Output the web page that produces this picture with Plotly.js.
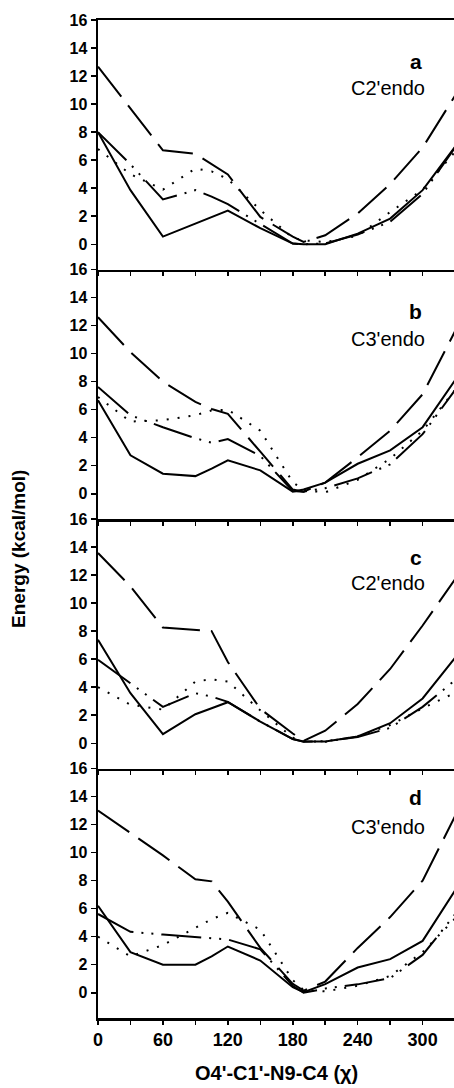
<!DOCTYPE html>
<html>
<head>
<meta charset="utf-8">
<script src="https://cdn.plot.ly/plotly-3.0.1.min.js"></script>
<style>
  html, body { margin: 0; padding: 0; background: #fff; }
  #chart { width: 454px; height: 1088px; }
</style>
</head>
<body>
<div id="chart"></div>
<script>
// Glycosidic torsion angle chi (degrees)
const chi = [0, 30, 60, 90, 105, 120, 150, 180, 190, 210, 240, 270, 300, 330];

// Relative energies (kcal/mol), panel a (C2'endo)
const aSolid   = [8.0, 3.86, 0.55, 1.5, 1.95, 2.4, 1.15, 0.05, 0.0, 0.0, 0.76, 1.83, 3.86, 6.95];
const aDash    = [12.67, 9.7, 6.7, 6.45, 5.7, 4.98, 1.95, 0.54, 0.17, 0.64, 2.2, 4.3, 6.9, 10.6];
const aDot     = [6.8, 5.0, 3.9, 5.4, 5.2, 4.65, 2.45, 0.45, 0.28, 0.15, 0.6, 2.3, 3.9, 6.6];
const aDashDot = [8.0, 5.7, 3.2, 3.86, 3.4, 2.86, 1.45, 0.05, 0.0, 0.05, 0.7, 1.6, 3.6, 6.9];

// Panel b (C3'endo)
const bSolid   = [6.67, 2.74, 1.43, 1.26, 1.8, 2.38, 1.67, 0.15, 0.3, 0.79, 2.14, 3.1, 4.75, 8.1];
const bDash    = [12.6, 10.1, 8.0, 6.55, 6.05, 5.7, 3.0, 0.3, 0.15, 0.8, 2.6, 4.5, 7.1, 11.6];
const bDot     = [6.9, 5.15, 5.25, 5.6, 5.95, 6.0, 4.5, 0.83, 0.25, 0.1, 1.0, 2.5, 4.5, 7.4];
const bDashDot = [7.62, 5.6, 4.75, 3.96, 3.64, 3.9, 2.7, 0.2, 0.15, 0.4, 1.1, 2.1, 4.25, 7.4];

// Panel c (C2'endo)
const cSolid   = [7.38, 3.57, 0.65, 2.07, 2.5, 2.93, 1.55, 0.3, 0.12, 0.12, 0.48, 1.43, 3.2, 6.1];
const cDash    = [13.57, 11.2, 8.26, 8.1, 8.0, 5.8, 2.45, 0.7, 0.17, 0.9, 2.8, 5.3, 8.4, 11.7];
const cDot     = [4.0, 2.75, 2.4, 4.4, 4.57, 4.4, 2.35, 0.4, 0.15, 0.1, 0.5, 1.3, 2.5, 3.6];
const cDashDot = [5.95, 4.3, 2.6, 3.57, 3.33, 2.95, 1.55, 0.3, 0.1, 0.15, 0.45, 1.1, 2.6, 4.5];

// Panel d (C3'endo)
const dSolid   = [6.2, 2.9, 2.0, 2.0, 2.6, 3.3, 2.3, 0.4, 0.05, 0.62, 1.8, 2.4, 3.7, 7.3];
const dDash    = [13.0, 11.4, 9.8, 8.1, 7.95, 6.5, 3.2, 0.64, 0.15, 0.8, 3.2, 5.4, 8.0, 12.6];
const dDot     = [4.0, 2.6, 3.4, 4.6, 5.25, 5.7, 4.5, 0.9, 0.2, 0.1, 0.5, 1.2, 2.9, 5.3];
const dDashDot = [5.62, 4.35, 4.15, 3.95, 3.88, 3.8, 3.1, 0.5, 0.0, 0.3, 0.6, 1.05, 2.7, 5.6];

const panelLetters = ['a', 'b', 'c', 'd'];
const puckers = ["C2'endo", "C3'endo", "C2'endo", "C3'endo"];
const yTickVals = [0, 2, 4, 6, 8, 10, 12, 14, 16];
const xTickVals = [0, 30, 60, 90, 120, 150, 180, 210, 240, 270, 300, 330];
const xTickText = ['0', '', '60', '', '120', '', '180', '', '240', '', '300', ''];
const xTitle = "O4'-C1'-N9-C4 (\u03c7)";
const yTitle = 'Energy (kcal/mol)';

const panels = [
  [aSolid, aDash, aDot, aDashDot],
  [bSolid, bDash, bDot, bDashDot],
  [cSolid, cDash, cDot, cDashDot],
  [dSolid, dDash, dDot, dDashDot]
];

// solid, long dash, dotted, dash-dot-dot
const styles = [
  { color: '#000', width: 2, dash: 'solid' },
  { color: '#000', width: 2, dash: '38px,11px' },
  { color: '#000', width: 2, dash: '2px,9px' },
  { color: '#000', width: 2, dash: '40px,8px,2px,8px,2px,8px' }
];

const FONT = 'Liberation Sans, Arial, Helvetica, sans-serif';

const traces = [];
panels.forEach((series, p) => {
  const sfx = p === 0 ? '' : String(p + 1);
  series.forEach((vals, s) => {
    traces.push({
      x: chi, y: vals, type: 'scatter', mode: 'lines',
      xaxis: 'x' + sfx, yaxis: 'y' + sfx,
      line: styles[s], showlegend: false, hoverinfo: 'skip'
    });
  });
});

const layout = {
  width: 454, height: 1088,
  margin: { l: 98, r: 0, t: 20, b: 70 },
  paper_bgcolor: '#fff', plot_bgcolor: '#fff',
  showlegend: false,
  font: { family: FONT, color: '#000' },
  annotations: []
};

const plotW = 454 - 98;
const dom = [[0.75, 1], [0.5, 0.75], [0.25, 0.5], [0, 0.25]];
const letterY = [0.835, 0.832, 0.845, 0.885];
const puckerY = [0.727, 0.72, 0.745, 0.767];

for (let i = 0; i < 4; i++) {
  const sfx = i === 0 ? '' : String(i + 1);
  layout['xaxis' + sfx] = {
    anchor: 'y' + sfx, domain: [0, 1], range: [0, 329],
    showline: true, linewidth: 2.5, linecolor: '#000', mirror: i === 0,
    ticks: 'outside', ticklen: 4, tickwidth: 1.5, tickcolor: '#000',
    tickvals: xTickVals, ticktext: xTickText,
    showticklabels: i === 3,
    tickfont: { family: FONT, size: 18, weight: 'bold', color: '#000' },
    showgrid: false, zeroline: false, fixedrange: true
  };
  layout['yaxis' + sfx] = {
    anchor: 'x' + sfx, domain: dom[i], range: [-1.8, 16],
    showline: true, linewidth: 2.5, linecolor: '#000',
    ticks: 'outside', ticklen: 5, tickwidth: 1.5, tickcolor: '#000',
    tickvals: yTickVals,
    tickfont: { family: FONT, size: 16, weight: 'bold', color: '#000' },
    showgrid: false, zeroline: false, fixedrange: true
  };
  layout.annotations.push({
    text: panelLetters[i], xref: 'paper', yref: 'y' + sfx + ' domain',
    x: (424 - 98) / plotW, y: letterY[i],
    xanchor: 'right', yanchor: 'middle', showarrow: false,
    font: { family: FONT, size: 21, weight: 'bold', color: '#000' }
  });
  layout.annotations.push({
    text: puckers[i], xref: 'paper', yref: 'y' + sfx + ' domain',
    x: (349 - 98) / plotW, y: puckerY[i], xanchor: 'left', yanchor: 'middle',
    showarrow: false,
    font: { family: FONT, size: 20, color: '#000' }
  });
}

layout.annotations.push({
  text: xTitle, xref: 'paper', yref: 'paper', x: 0.5, y: -0.055,
  xanchor: 'center', yanchor: 'middle', showarrow: false,
  font: { family: FONT, size: 20, weight: 'bold', color: '#000' }
});
layout.annotations.push({
  text: yTitle, xref: 'paper', yref: 'paper', x: (19 - 98) / plotW, y: 0.47,
  xanchor: 'center', yanchor: 'middle', textangle: -90, showarrow: false,
  font: { family: FONT, size: 19, weight: 'bold', color: '#000' }
});

Plotly.newPlot('chart', traces, layout, { staticPlot: true, displayModeBar: false });
</script>
</body>
</html>
